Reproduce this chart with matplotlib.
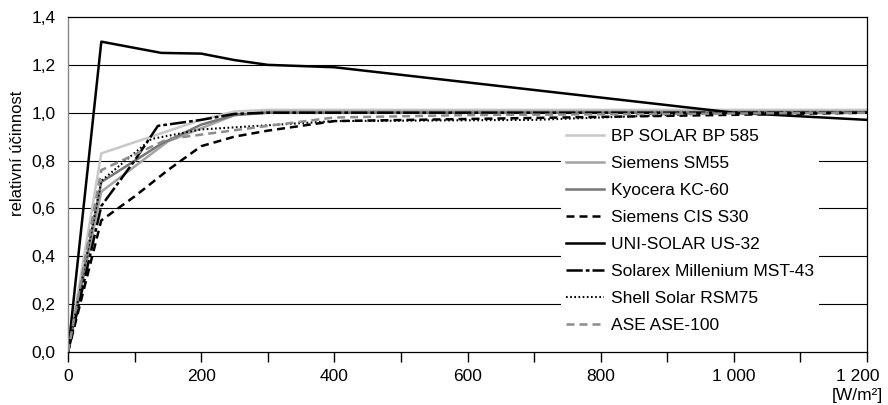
import matplotlib
matplotlib.use("Agg")
import matplotlib.pyplot as plt
import matplotlib.transforms as mtransforms
import numpy as np

plt.rcParams['font.family'] = ['Liberation Sans', 'DejaVu Sans']

# irradiance [W/m2] and relative efficiency
bp_x = [0, 50, 200, 250, 300, 1200]
bp_y = [0, 0.83, 0.97, 1.005, 1.012, 1.012]

sm55_x = [0, 50, 150, 250, 300, 1200]
sm55_y = [0, 0.67, 0.88, 0.99, 1.005, 1.005]

kc60_x = [0, 50, 140, 200, 250, 300, 1200]
kc60_y = [0, 0.71, 0.87, 0.95, 0.99, 1.0, 1.0]

cis_x = [0, 50, 100, 150, 200, 250, 300, 400, 1200]
cis_y = [0, 0.55, 0.65, 0.76, 0.86, 0.90, 0.925, 0.965, 1.0]

uni_x = [0, 50, 140, 200, 250, 300, 400, 1000, 1200]
uni_y = [0, 1.297, 1.25, 1.247, 1.22, 1.2, 1.19, 1.0, 0.97]

mst_x = [0, 50, 100, 135, 200, 250, 300, 1200]
mst_y = [0, 0.61, 0.80, 0.945, 0.97, 0.995, 1.0, 1.0]

rsm_x = [0, 50, 125, 200, 400, 700, 1000, 1200]
rsm_y = [0, 0.715, 0.89, 0.93, 0.965, 0.97, 1.0, 1.0]

ase_x = [0, 50, 150, 300, 400, 600, 1200]
ase_y = [0, 0.76, 0.89, 0.945, 0.98, 0.99, 1.0]

labels = ["BP SOLAR BP 585", "Siemens SM55", "Kyocera KC-60", "Siemens CIS S30",
          "UNI-SOLAR US-32", "Solarex Millenium MST-43", "Shell Solar RSM75", "ASE ASE-100"]

xticks = [0, 200, 400, 600, 800, 1000, 1200]
xticklabels = ["0", "200", "400", "600", "800", "1 000", "1 200"]
yticks = [0, 0.2, 0.4, 0.6, 0.8, 1.0, 1.2, 1.4]
yticklabels = ["0,0", "0,2", "0,4", "0,6", "0,8", "1,0", "1,2", "1,4"]

fig = plt.figure(figsize=(8.88, 4.05), dpi=100)
ax = fig.add_axes([0.0766, 0.131, 0.8998, 0.827])

lw = 1.8
ax.plot(bp_x, bp_y, color="#c8c8c8", lw=lw, label=labels[0])
ax.plot(sm55_x, sm55_y, color="#a4a4a4", lw=lw, label=labels[1])
ax.plot(kc60_x, kc60_y, color="#767676", lw=lw, label=labels[2])
ax.plot(cis_x, cis_y, color="black", lw=lw, dashes=(3.2, 2), label=labels[3])
ax.plot(uni_x, uni_y, color="black", lw=lw, label=labels[4])
ax.plot(mst_x, mst_y, color="black", lw=lw, dashes=(6.5, 1.2, 1.5, 1.2), label=labels[5])
ax.plot(rsm_x, rsm_y, color="black", lw=1.5, dashes=(0.8, 1.2), label=labels[6])
ax.plot(ase_x, ase_y, color="#8c8c8c", lw=lw, dashes=(3.2, 2), label=labels[7])

ax.set_xlim(0, 1200)
ax.set_ylim(0, 1.4)

for yv in yticks[1:-1]:
    ax.axhline(yv, color="black", lw=0.8, zorder=0)

ax.set_xticks(xticks)
ax.set_xticklabels(xticklabels, fontsize=12.5)
ax.set_xticks(np.arange(100, 1200, 200), minor=True)
ax.set_yticks(yticks)
ax.set_yticklabels(yticklabels, fontsize=12.5)
ax.tick_params(axis="x", which="both", direction="out", length=7, width=1, pad=5)
ax.tick_params(axis="y", length=0, pad=9)

for s in ["top", "right", "bottom"]:
    ax.spines[s].set_color("black")
    ax.spines[s].set_linewidth(0.9)
ax.spines["left"].set_color("#888888")
ax.spines["left"].set_linewidth(1.0)

# shift last tick label a little left as in the original
last = ax.get_xticklabels()[-1]
last.set_transform(last.get_transform() + mtransforms.ScaledTranslation(-9 / 100, 0, fig.dpi_scale_trans))

ax.set_ylabel("relativní účinnost", fontsize=12, labelpad=5)
ax.yaxis.set_label_coords(-0.054, 0.594)
fig.text(0.994, 0.005, "[W/m²]", ha="right", va="bottom", fontsize=12.5)

leg = ax.legend(loc="center left", bbox_to_anchor=(0.606, 0.361), fontsize=12.5, frameon=True,
                handlelength=2.2, handletextpad=0.4, labelspacing=0.68, borderpad=0.3)
leg.get_frame().set_facecolor("white")
leg.get_frame().set_edgecolor("none")
leg.get_frame().set_alpha(1)

fig.savefig("out.png", dpi=100)
